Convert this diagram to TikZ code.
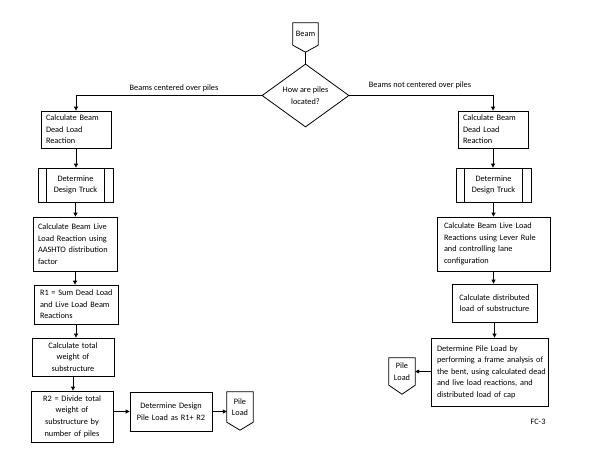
\documentclass[tikz,border=0pt]{standalone}
\usepackage{fontspec}
\setmainfont{Carlito}
\usetikzlibrary{shapes.geometric,arrows.meta,calc}
\begin{document}
\begin{tikzpicture}[x=1pt,y=-1pt,
  every node/.style={font=\fontsize{8.3}{11.6}\selectfont},
  box/.style={draw, rectangle, line width=0.8pt, inner xsep=5pt, inner ysep=0pt, align=left},
  cbox/.style={box, align=center},
  arr/.style={line width=0.8pt, -{Triangle[width=4pt,length=4pt]}},
  conn/.style={line width=0.8pt},
  term/.style={rectangle, inner sep=0pt, align=center}]
\useasboundingbox (0,0) rectangle (600,464);

% start
\node[term, minimum width=25pt, minimum height=22pt] (beam) at (305.5,34) {Beam};
\coordinate (beamtip) at ($(beam.south)+(0,7)$);
\draw[conn] (beam.north west) -- (beam.north east) -- (beam.south east) -- (beamtip) -- (beam.south west) -- cycle;

\node[diamond, draw, conn, minimum width=87pt, minimum height=59pt, inner sep=0pt, align=center] (dia) at (305.5,95.5) {How are piles\\located?};
\draw[conn] (beamtip) -- (dia.north);

\node (labL) at (174,88) {Beams centered over piles};
\node (labR) at (420,85) {Beams not centered over piles};

% left column
\node[box, text width=60pt, minimum height=37pt] (L1) at (76,129.5) {\mbox{Calculate Beam}\\\mbox{Dead Load}\\Reaction};
\node[cbox, text width=65pt, minimum height=34pt] (L2) at (75.5,185) {Determine\\\mbox{Design Truck}};
\draw[conn] ([xshift=9pt]L2.north west) -- ([xshift=9pt]L2.south west);
\draw[conn] ([xshift=-9pt]L2.north east) -- ([xshift=-9pt]L2.south east);
\node[box, text width=74pt, minimum height=54pt] (L3) at (75,244) {\mbox{Calculate Beam Live}\\\mbox{Load Reaction using}\\\mbox{AASHTO distribution}\\factor};
\node[box, inner xsep=6pt, text width=72pt, minimum height=39pt] (L4) at (76,304.5) {\mbox{R1 = Sum Dead Load}\\\mbox{and Live Load Beam}\\Reactions};
\node[cbox, text width=72pt, minimum height=38pt] (L5) at (73,357) {\mbox{Calculate total}\\\mbox{weight of}\\substructure};
\node[cbox, text width=72pt, minimum height=51pt] (L6) at (72,416.5) {\mbox{R2 = Divide total}\\\mbox{weight of}\\\mbox{substructure by}\\\mbox{number of piles}};
\node[cbox, text width=72pt, minimum height=39pt] (L7) at (171,411.5) {\mbox{Determine Design}\\\mbox{Pile Load as R1+ R2}\\[4pt]};
\node[term, minimum width=26pt, minimum height=30pt] (pileL) at (240,407) {Pile\\Load};
\coordinate (pileLtip) at ($(pileL.south)+(0,8)$);
\draw[conn] (pileL.north west) -- (pileL.north east) -- (pileL.south east) -- (pileLtip) -- (pileL.south west) -- cycle;

% right column
\node[box, text width=60pt, minimum height=37pt] (R1) at (493,129.5) {\mbox{Calculate Beam}\\\mbox{Dead Load}\\Reaction};
\node[cbox, text width=65pt, minimum height=34pt] (R2) at (493.5,185) {Determine\\\mbox{Design Truck}};
\draw[conn] ([xshift=9pt]R2.north west) -- ([xshift=9pt]R2.south west);
\draw[conn] ([xshift=-9pt]R2.north east) -- ([xshift=-9pt]R2.south east);
\node[box, inner xsep=7pt, text width=99pt, minimum height=54pt] (R3) at (493.5,244) {\mbox{Calculate Beam Live Load}\\\mbox{Reactions using Lever Rule}\\\mbox{and controlling lane}\\configuration};
\node[cbox, text width=75pt, minimum height=38pt] (R4) at (494.5,303) {\mbox{Calculate distributed}\\\mbox{load of substructure}};
\node[box, inner xsep=6pt, text width=105pt, minimum height=68pt] (R5) at (489.5,372) {\mbox{Determine Pile Load by}\\\mbox{performing a frame analysis of}\\\mbox{the bent, using calculated dead}\\\mbox{and live load reactions, and}\\\mbox{distributed load of cap}};
\node[term, minimum width=26pt, minimum height=27pt] (pileR) at (402,371.5) {Pile\\Load};
\coordinate (pileRtip) at ($(pileR.south)+(0,9)$);
\draw[conn] (pileR.north west) -- (pileR.north east) -- (pileR.south east) -- (pileRtip) -- (pileR.south west) -- cycle;

\node (fc) at (538,422) {FC-3};

% connectors
\draw[arr] (dia.west) -| (L1.north);
\draw[arr] (dia.east) -| (R1.north);
\draw[arr] (L1.south) -- (L1.south |- L2.north);
\draw[arr] (L2.south) -- (L2.south |- L3.north);
\draw[arr] (L3.south) -- (L3.south |- L4.north);
\draw[arr] (L4.south) -- (L4.south |- L5.north);
\draw[arr] (L5.south) -- (L5.south |- L6.north);
\draw[arr] (L6.east |- L7.west) -- (L7.west);
\draw[arr] (L7.east) -- (L7.east -| pileL.west);
\draw[arr] (R1.south) -- (R1.south |- R2.north);
\draw[arr] (R2.south) -- (R2.south |- R3.north);
\draw[arr] (R3.south) -- (R3.south |- R4.north);
\draw[arr] (R4.south) -- (R4.south |- R5.north);
\draw[arr] (R5.west |- pileR.east) -- (pileR.east);
\end{tikzpicture}
\end{document}
